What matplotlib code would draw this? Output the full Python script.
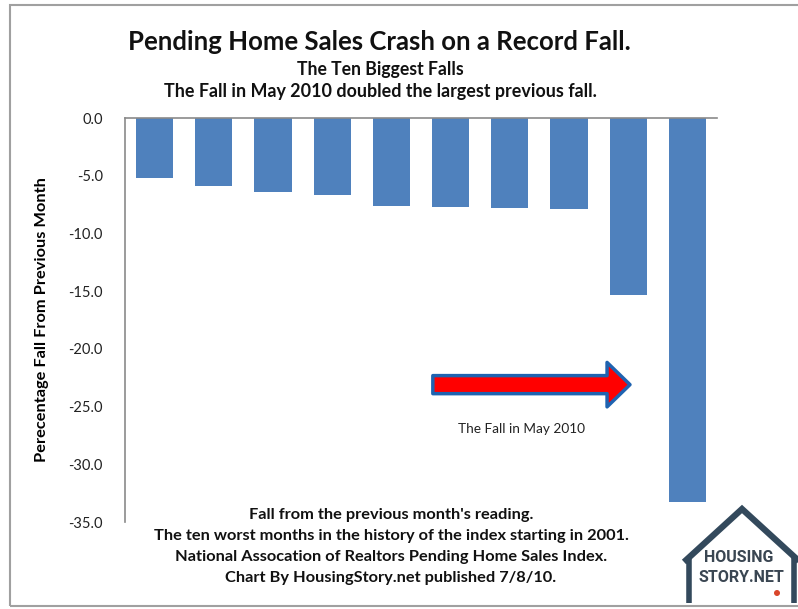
import numpy as np
import matplotlib.pyplot as plt
from matplotlib.patches import Rectangle, Circle

plt.rcParams['font.family'] = ['Lato', 'DejaVu Sans']

# ten biggest monthly falls, May 2010 last
falls = [-5.2, -5.9, -6.4, -6.7, -7.6, -7.7, -7.8, -7.9, -15.3, -33.3]
yticks = [0, -5, -10, -15, -20, -25, -30, -35]

W, H = 798, 609
fig = plt.figure(figsize=(W / 100, H / 100), dpi=100)
fig.patch.set_facecolor('white')

# outer chart frame
fig.patches.append(Rectangle((10 / W, 1 - 606 / H), 1.0, (606 - 5) / H,
                             transform=fig.transFigure, fill=False,
                             ec='#a0a0a0', lw=1.5))

ax = fig.add_axes([125 / W, 1 - 522 / H, (717 - 125) / W, (522 - 118) / H])
x = np.arange(len(falls))
ax.bar(x, falls, width=0.63, color='#4f81bd')
ax.set_xlim(-0.5, len(falls) - 0.5)
ax.set_ylim(-35, 0)
ax.set_yticks(yticks)
ax.set_yticklabels(['%.1f' % v for v in yticks], fontsize=10.5, color='#222222')
ax.set_xticks([])
for s in ['bottom', 'right']:
    ax.spines[s].set_visible(False)
for s in ['top', 'left']:
    ax.spines[s].set_color('#8a8a8a')
    ax.spines[s].set_linewidth(1.2)
ax.tick_params(axis='y', length=0, pad=16)
ax.set_ylabel('Perecentage Fall From Previous Month', fontsize=11.8,
              fontweight='bold', labelpad=14)

# arrow pointing at May 2010
ax.annotate('', xy=(8.03, -23.1), xytext=(4.70, -23.1),
            arrowprops=dict(arrowstyle='simple,head_length=1.65,head_width=3.2,tail_width=1.3',
                            mutation_scale=10, fc='#ff0000', ec='#1f63b0', lw=2.5,
                            shrinkA=0, shrinkB=0))
ax.text(6.19, -26.9, 'The Fall in May 2010', fontsize=9.8, ha='center', va='center',
        color='#222222')

# titles
fig.text(379 / W, 1 - 42 / H, 'Pending Home Sales Crash on a Record Fall.',
         fontsize=18.5, ha='center', va='center', fontweight='bold', color='#111111')
fig.text(380 / W, 1 - 69 / H, 'The Ten Biggest Falls', fontsize=12.7,
         ha='center', va='center', fontweight='bold', color='#111111')
fig.text(380 / W, 1 - 92 / H, 'The Fall in May 2010 doubled the largest previous fall.',
         fontsize=12.9, ha='center', va='center', fontweight='bold', color='#111111')

notes = ["Fall from the previous month's reading.",
         "The ten worst months in the history of the index starting in 2001.",
         "National Assocation of Realtors Pending Home Sales Index.",
         "Chart By HousingStory.net published 7/8/10."]
for i, line in enumerate(notes):
    fig.text(391 / W, 1 - (515 + 21 * i) / H, line, fontsize=11.8, ha='center',
             va='center', fontweight='bold', color='#111111')

# HousingStory.net logo
lx = fig.add_axes([670 / W, 0, (W - 670) / W, (609 - 490) / H])
lx.set_xlim(670, W)
lx.set_ylim(609, 490)
lx.axis('off')
navy = '#33495c'
lx.plot([684, 742, 800], [562, 509, 562], color=navy, lw=4.5,
        solid_joinstyle='miter', solid_capstyle='butt')
lx.plot([689, 689], [556, 603], color=navy, lw=4, solid_capstyle='butt')
lx.plot([794, 794], [556, 603], color=navy, lw=4, solid_capstyle='butt')
lx.text(739, 557, 'HOUSING', fontsize=11.5, ha='center', va='center', color='#3a4652',
        family=['Roboto'], fontweight='bold')
lx.text(741, 577, 'STORY.NET', fontsize=11.5, ha='center', va='center', color='#3a4652',
        family=['Roboto'], fontweight='bold')
lx.add_patch(Circle((777, 593), 3, fc='#d9462b', ec='none'))

fig.savefig('out.png', dpi=100)
